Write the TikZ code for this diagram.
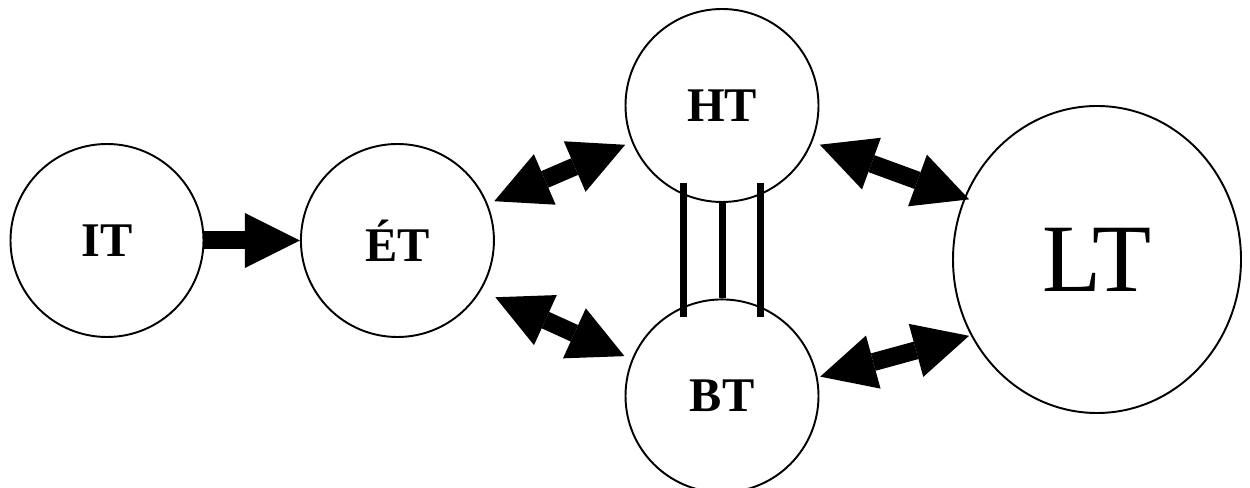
\documentclass[tikz,border=0pt]{standalone}
\usepackage{fontspec}
\setmainfont{Liberation Serif}
\usetikzlibrary{positioning, shapes.geometric, arrows.meta}
\tikzstyle{Circ} = [
circle,
draw,
line width=1.1pt,
minimum size=3.86cm,
inner sep=0pt,
font=\fontsize{27.5}{30}\selectfont\bfseries]
\tikzstyle{BigArrow} = [
line width=0.36cm,
-{Triangle[length=1.1cm, width=1.1cm, line width=0pt]}]
\tikzstyle{DoubleArrow} = [
line width=0.36cm,
{Triangle[length=1.1cm, width=1.1cm, line width=0pt]}-{Triangle[length=1.1cm, width=1.1cm, line width=0pt]}]
\tikzstyle{Bar} = [line width=0.14cm]

\begin{document}
\begin{tikzpicture}
    \useasboundingbox (0,0) rectangle (25,9.76);
    \node [Circ] (1) at (2.14,4.95) {IT};
    \node [Circ, right=1.91cm of 1] (2) {ÉT};
    \node [Circ] (3) at (14.44,7.65) {HT};
    \node [Circ, below=1.91cm of 3] (4) {BT};
    \node [ellipse, draw, line width=1.1pt, minimum width=5.76cm, minimum height=6.14cm,
           inner sep=0pt, font=\fontsize{55}{60}\selectfont] (5) at (21.94,4.57) {LT};

    \coordinate (6) at (13.66,6.10);
    \coordinate (7) at (13.66,3.42);
    \coordinate (8) at (15.20,6.10);
    \coordinate (9) at (15.20,3.42);

    \draw[BigArrow] (1) -- (2);
    \draw[DoubleArrow, shorten <=4pt, shorten >=4pt] (2.22) -- (3.202);
    \draw[DoubleArrow, shorten <=9pt, shorten >=4.5pt] (2.-31) -- (4.158);
    \draw[DoubleArrow, shorten <=4.5pt, shorten >=-3pt] (3.-22) -- (5.155);
    \draw[DoubleArrow, shorten <=1.5pt, shorten >=1pt] (4.11) -- (5.211);

    \draw[Bar] (6) -- (7);
    \draw[Bar] (3.south) -- (4.north);
    \draw[Bar] (8) -- (9);
\end{tikzpicture}
\end{document}
